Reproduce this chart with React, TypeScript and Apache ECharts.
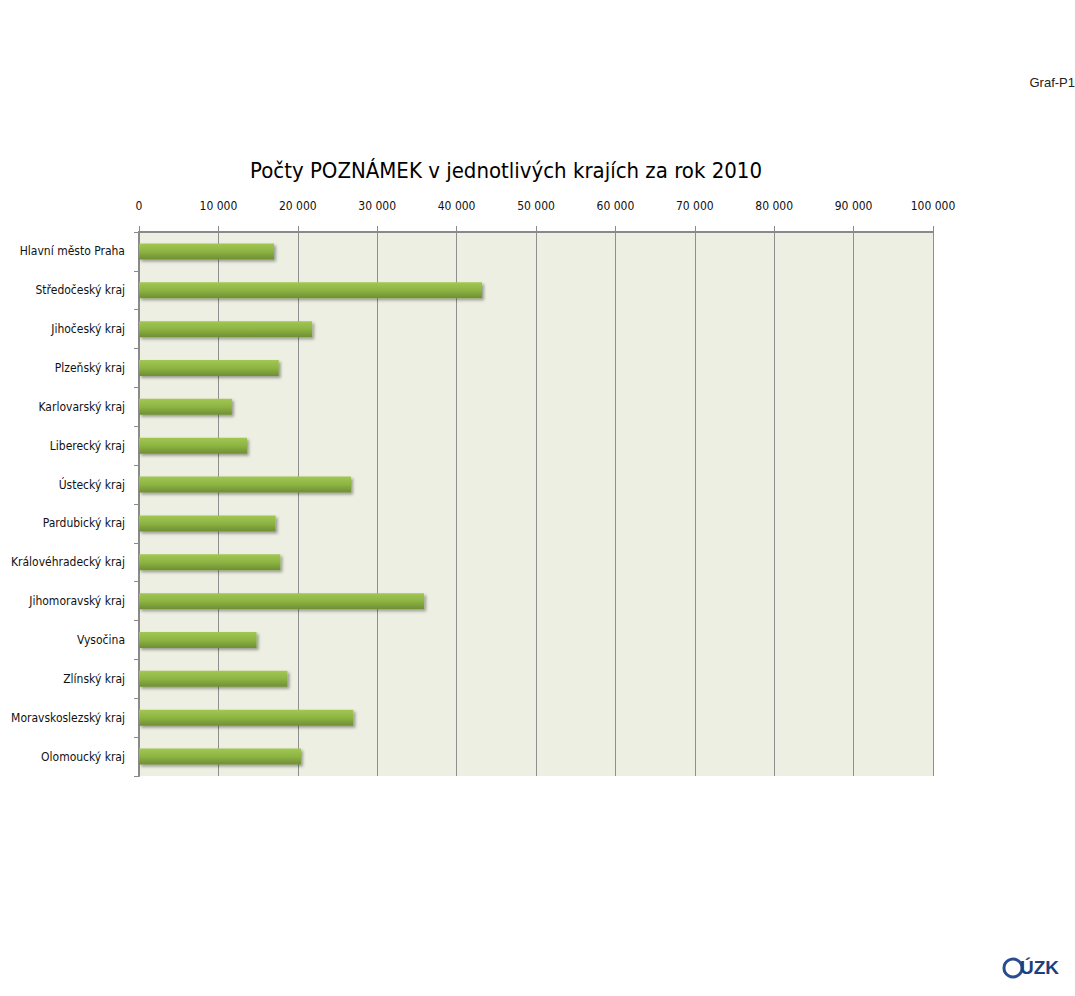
import React, { useEffect, useRef } from "react";
import * as echarts from "echarts";

const categories = [
  "Hlavní město Praha",
  "Středočeský kraj",
  "Jihočeský kraj",
  "Plzeňský kraj",
  "Karlovarský kraj",
  "Liberecký kraj",
  "Ústecký kraj",
  "Pardubický kraj",
  "Královéhradecký kraj",
  "Jihomoravský kraj",
  "Vysočina",
  "Zlínský kraj",
  "Moravskoslezský kraj",
  "Olomoucký kraj",
];

const values = [17000, 43200, 21800, 17600, 11700, 13600, 26700, 17200, 17800, 35900, 14800, 18700, 27000, 20400];

const titleText = "Počty POZNÁMEK v jednotlivých krajích za rok 2010";
const cornerText = "Graf-P1";
const logoText = "ÚZK";

const FONT = "'Liberation Sans Narrow', 'DejaVu Sans Condensed', 'Open Sans', sans-serif";

export default function App() {
  const ref = useRef<HTMLDivElement>(null);
  useEffect(() => {
    document.body.style.margin = "0";
    const chart = echarts.init(ref.current!, null, { renderer: "svg" });
    chart.setOption({
      animation: false,
      backgroundColor: "#ffffff",
      title: {
        text: titleText,
        left: 501,
        textAlign: "center",
        top: 154,
        textStyle: { fontFamily: FONT, fontSize: 22, fontWeight: "normal", color: "#000" },
      },
      graphic: [
        {
          type: "text",
          right: 0,
          top: 76,
          style: { text: cornerText, fontFamily: "'Liberation Sans', Arial, sans-serif", fontSize: 13, fill: "#222" },
        },
        {
          type: "circle",
          shape: { cx: 1013, cy: 968, r: 9 },
          style: { fill: "none", stroke: "#2a4d8f", lineWidth: 3 },
        },
        {
          type: "text",
          x: 1020,
          y: 958,
          style: { text: logoText, fontFamily: "'Liberation Sans', Arial, sans-serif", fontSize: 19, fontWeight: "bold", fill: "#1f3e7c" },
        },
      ],
      grid: {
        left: 139,
        right: 142,
        top: 232,
        bottom: 220,
        show: true,
        backgroundColor: "#ECEFE1",
        borderWidth: 0,
      },
      xAxis: {
        type: "value",
        position: "top",
        min: 0,
        max: 100000,
        interval: 10000,
        axisLine: { show: true, lineStyle: { color: "#8a8a8a", width: 2 } },
        axisTick: { show: true, length: 6, lineStyle: { color: "#8a8a8a" } },
        splitLine: { show: true, lineStyle: { color: "#8f8f8f", width: 1 } },
        axisLabel: {
          margin: 20,
          fontFamily: FONT,
          fontSize: 12,
          color: "#111",
          formatter: (v: number) => String(v).replace(/\B(?=(\d{3})+(?!\d))/g, " "),
        },
      },
      yAxis: {
        type: "category",
        data: categories,
        inverse: true,
        axisLine: { show: true, lineStyle: { color: "#8a8a8a", width: 2 } },
        axisTick: { show: true, length: 5, alignWithLabel: false, lineStyle: { color: "#8a8a8a" } },
        axisLabel: { margin: 14, fontFamily: FONT, fontSize: 12, color: "#111" },
      },
      series: [
        {
          type: "bar",
          data: values,
          barWidth: 16,
          itemStyle: {
            color: new echarts.graphic.LinearGradient(0, 0, 0, 1, [
              { offset: 0, color: "#A2C752" },
              { offset: 0.5, color: "#8DB443" },
              { offset: 1, color: "#6F8E33" },
            ]),
            shadowColor: "rgba(0,0,0,0.35)",
            shadowBlur: 3,
            shadowOffsetX: 2,
            shadowOffsetY: 2,
          },
        },
      ],
    });
    return () => chart.dispose();
  }, []);
  return <div ref={ref} style={{ width: 1075, height: 996 }} />;
}
